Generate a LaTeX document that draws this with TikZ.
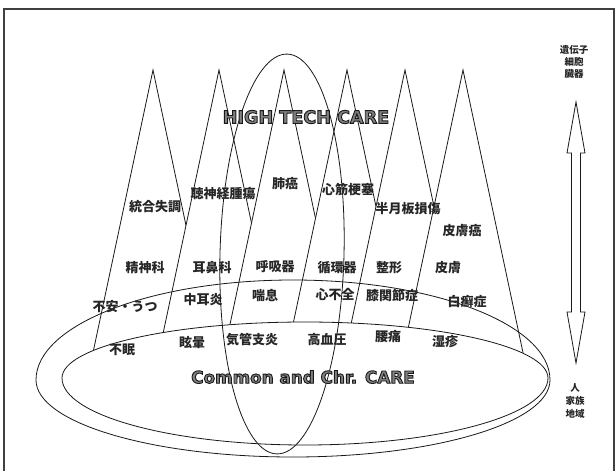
\documentclass[tikz,border=0pt]{standalone}
\usepackage{fontspec}
\newfontfamily\jp{Noto Sans CJK JP}
\newfontfamily\heavy{DejaVu Sans}
\newcommand\outl[1]{\special{pdf:literal direct 2 Tr 0.9 w 0.1 G 0.5 g}#1\special{pdf:literal direct 0 Tr 0 g 0 G}}
\tikzset{
  edge/.style={draw=black!90, line width=0.8pt},
  tri/.style={edge, fill=white, line join=miter},
  lab/.style={font=\jp\bfseries\fontsize{13}{13}\selectfont, text=black!85, inner sep=0pt},
  small/.style={font=\jp\bfseries\fontsize{9.5}{9.5}\selectfont, text=black!85, inner sep=0pt},
  big/.style={font=\heavy\bfseries, inner sep=0pt},
}
\begin{document}
\begin{tikzpicture}[x=1pt,y=-1pt]
\useasboundingbox (0,0) rectangle (616,471);
% frame
\draw[line width=1.2pt, black!75] (4,476) -- (4,9) -- (614,9) -- (614,476);
% triangles (white filled, left to right)
\foreach \a in {153,219,284,347,405,463}
  \path[tri] (\a,70) -- (\a-69,395) -- (\a+69,395) -- cycle;
% outer ring (upper arc taller than lower arc)
\draw[edge] (36,380) arc[start angle=180, end angle=360, x radius=257, y radius=100]
  arc[start angle=0, end angle=180, x radius=257, y radius=77] -- cycle;
% inner ring (white filled)
\draw[edge, fill=white] (62,378) arc[start angle=180, end angle=360, x radius=243, y radius=56]
  arc[start angle=0, end angle=180, x radius=243, y radius=67] -- cycle;
% vertical ellipse
\draw[edge, rotate around={-1.5:(282,254)}] (282,254) ellipse [x radius=62, y radius=200];
% double arrow
\draw[edge] (576,102) -- (585,153) -- (580.5,153) -- (580.5,312) -- (585,312) -- (576,363)
  -- (567,312) -- (571.5,312) -- (571.5,153) -- (567,153) -- cycle;
% big titles
\node[big, font=\heavy\bfseries\fontsize{17.6}{17.6}\selectfont] (htc) at (306,117) {\outl{HIGH TECH CARE}};
\node[big, font=\heavy\bfseries\fontsize{16.8}{16.8}\selectfont] (ccc) at (303,377) {\outl{Common and Chr. CARE}};
% right labels
\node[small] (r1) at (574,50) {遺伝子};
\node[small] (r2) at (574,62) {細胞};
\node[small] (r3) at (574,74) {臓器};
\node[small] (r4) at (575,388) {人};
\node[small] (r5) at (575,401) {家族};
\node[small] (r6) at (575,414) {地域};
% labels
\node[lab] (l11) at (155,207) {統合失調};
\node[lab] (l12) at (223,194) {聴神経腫瘍};
\node[lab] (l13) at (285,184) {肺癌};
\node[lab] (l14) at (348,190) {心筋梗塞};
\node[lab] (l15) at (408,209) {半月板損傷};
\node[lab] (l16) at (462,231) {皮膚癌};
\node[lab] (l21) at (145,268) {精神科};
\node[lab] (l22) at (212,268) {耳鼻科};
\node[lab] (l23) at (275,267) {呼吸器};
\node[lab] (l24) at (337,268) {循環器};
\node[lab] (l25) at (389,268) {整形};
\node[lab] (l26) at (448,268) {皮膚};
\node[lab] (l31) at (125,307) {不安・うつ};
\node[lab] (l32) at (203,300) {中耳炎};
\node[lab] (l33) at (265,295) {喘息};
\node[lab] (l34) at (335,295) {心不全};
\node[lab] (l35) at (392,296) {膝関節症};
\node[lab] (l36) at (467,302) {白癬症};
\node[lab] (l41) at (122,350) {不眠};
\node[lab] (l42) at (192,343) {眩暈};
\node[lab] (l43) at (252,340) {気管支炎};
\node[lab] (l44) at (327,340) {高血圧};
\node[lab] (l45) at (388,337) {腰痛};
\node[lab] (l46) at (445,342) {湿疹};
\end{tikzpicture}
\end{document}
